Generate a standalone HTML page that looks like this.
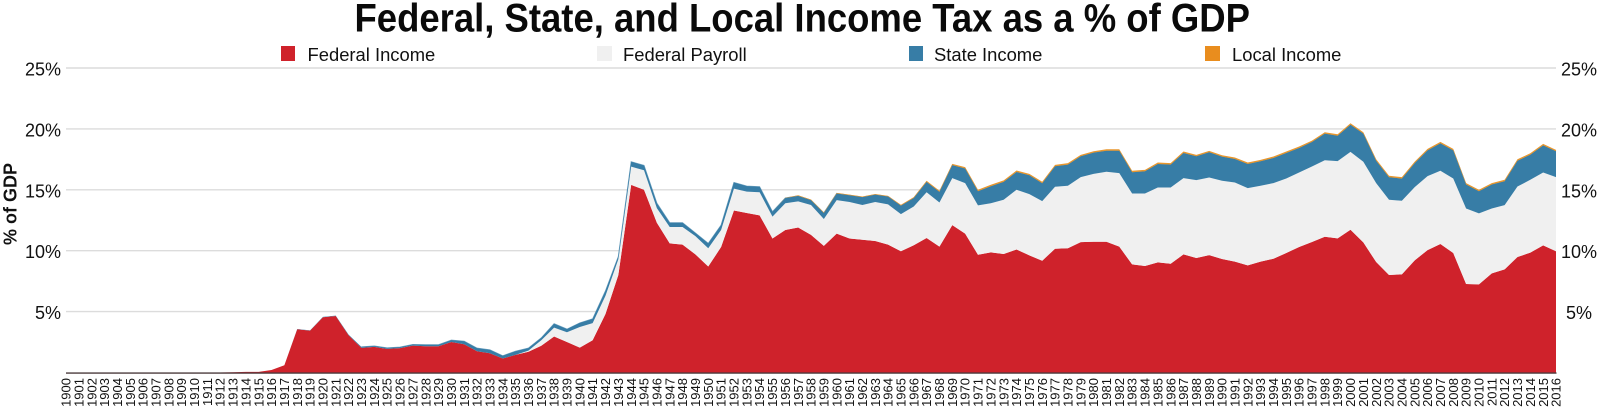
<!DOCTYPE html>
<html>
<head>
<meta charset="utf-8">
<title>Federal, State, and Local Income Tax as a % of GDP</title>
<style>
html,body{margin:0;padding:0;background:#fff;width:1600px;height:408px;overflow:hidden}
svg{display:block;font-family:"Liberation Sans",Arial,sans-serif;color:#111}
</style>
</head>
<body>
<svg id="chart" width="1600" height="408" viewBox="0 0 1600 408" xmlns="http://www.w3.org/2000/svg">
  <text transform="translate(354.5 31.5) scale(1 1.08)" font-size="36.5" font-weight="700" fill="#0a0a0a">Federal, State, and Local Income Tax as a % of GDP</text>
  <g id="grid"></g>
  <g id="areas"></g>
  <g id="yleft"></g>
  <g id="yright"></g>
  <g id="xaxis"></g>
  <text transform="translate(16.5 204) rotate(-90)" text-anchor="middle" font-size="18" font-weight="700" fill="#111">% of GDP</text>
  <g>
    <g>
      <rect x="281" y="46" width="14" height="15" fill="#cf222b"/>
      <text x="307.5" y="61" font-size="18.4" fill="#111">Federal Income</text>
    </g>
    <g>
      <rect x="597" y="46" width="15" height="15" fill="#f0f0f0"/>
      <text x="623" y="61" font-size="18.4" fill="#111">Federal Payroll</text>
    </g>
    <g>
      <rect x="909" y="46" width="14" height="15" fill="#377da6"/>
      <text x="934" y="61" font-size="18.4" fill="#111">State Income</text>
    </g>
    <g>
      <rect x="1205" y="46" width="15" height="15" fill="#e98d1e"/>
      <text x="1232" y="61" font-size="18.4" fill="#111">Local Income</text>
    </g>
  </g>
</svg>
<script>
const firstYear = 1900;
const lastYear = 2016;
const yTicks = [5, 10, 15, 20, 25];
const federalIncome = [
0,0,0,0,0,0,0,0,0,0,0,0,0,.02,.05,.05,.2,.6,3.55,3.44,
4.54,4.64,3.06,2.02,2.1,1.94,2,2.21,2.16,2.16,2.5,2.32,1.75,1.58,1.15,1.45,1.7,2.2,2.96,2.5,
2.04,2.65,4.8,8,15.4,15,12.3,10.6,10.5,9.7,8.7,10.3,13.3,13.1,12.9,11,11.7,11.9,11.3,10.4,
11.4,11,10.9,10.8,10.5,9.95,10.45,11.04,10.33,12.1,11.4,9.67,9.86,9.73,10.1,9.62,9.18,10.16,10.2,10.7,
10.74,10.74,10.33,8.88,8.74,9.04,8.93,9.7,9.4,9.64,9.32,9.1,8.8,9.1,9.34,9.81,10.3,10.71,11.15,11.01,
11.72,10.68,9.07,8,8.06,9.21,10.05,10.55,9.81,7.27,7.24,8.14,8.47,9.48,9.84,10.44,9.95];
const federalPayroll = [
0,0,0,0,0,0,0,0,0,0,0,0,0,0,0,0,0,0,0,0,
0,0,0,0,0,0,0,0,0,0,0,0,0,0,0,0,.1,.45,.72,.8,
1.7,1.4,1.5,1.3,1.5,1.6,1.2,1.35,1.45,1.5,1.5,1.4,1.8,1.75,1.9,1.8,2.2,2.15,2.45,2.2,
2.75,3,2.85,3.2,3.3,3.05,3.18,3.76,3.63,3.86,4.15,4.05,4.04,4.45,4.9,5.02,4.89,5.09,5.13,5.34,
5.57,5.74,6.04,5.82,5.96,6.15,6.26,6.26,6.39,6.37,6.42,6.5,6.34,6.23,6.21,6.12,6.12,6.2,6.28,6.34,
6.39,6.62,6.48,6.18,6.04,6.01,6.07,6.01,6.12,6.2,5.82,5.33,5.27,5.79,5.98,5.98,6.09];
const stateIncome = [
0,0,0,0,0,0,0,0,0,0,0,0,0,0,0,0,0,0,.02,.02,
.03,.03,.05,.08,.08,.08,.08,.09,.12,.12,.16,.25,.25,.28,.22,.3,.2,.19,.32,.26,
.33,.35,.4,.22,.4,.4,.4,.35,.35,.25,.4,.4,.5,.45,.45,.4,.43,.45,.4,.5,
.55,.55,.65,.6,.65,.7,.7,.85,.87,1.07,1.2,1.16,1.39,1.47,1.46,1.55,1.47,1.68,1.74,1.71,
1.74,1.73,1.84,1.74,1.82,1.93,1.88,2.06,1.96,2.07,1.98,1.93,1.98,2.01,2.06,2.09,2.01,2.01,2.18,2.09,
2.23,2.31,1.84,1.85,1.82,1.97,2.12,2.25,2.31,1.96,1.82,1.96,1.96,2.12,2.06,2.23,2.12];
const localIncome = [
0,0,0,0,0,0,0,0,0,0,0,0,0,0,0,0,0,0,0,0,
0,0,0,0,0,0,0,0,0,0,0,0,0,0,0,0,0,0,0,0,
0,0,0,0,0,0,0,0,0,0,0,0,0,0,0,0,.02,.05,.05,.05,
.05,.05,.05,.05,.05,.07,.07,.09,.09,.1,.11,.12,.12,.12,.12,.12,.12,.12,.12,.12,
.12,.12,.12,.12,.12,.12,.12,.12,.12,.12,.12,.12,.12,.12,.12,.12,.12,.12,.12,.12,
.12,.12,.12,.12,.12,.12,.12,.12,.12,.12,.12,.12,.12,.12,.12,.12,.12];

const NS = 'http://www.w3.org/2000/svg';
const xLeft = 66, xRight = 1556, yBase = 372.5, yPerPct = 12.18;
function xScale(year){ return xLeft + (year - firstYear) * (xRight - xLeft) / (lastYear - firstYear); }
function yScale(pct){ return yBase - pct * yPerPct; }
function make(tag, attrs, parent){
  const el = document.createElementNS(NS, tag);
  for (const k in attrs) el.setAttribute(k, attrs[k]);
  parent.appendChild(el);
  return el;
}

const grid = document.getElementById('grid');
const yleft = document.getElementById('yleft');
const yright = document.getElementById('yright');
yTicks.forEach(function(t){
  const y = yScale(t);
  const line = make('line', {x1: xLeft, x2: xRight, y1: y, y2: y, stroke: '#dcdcdc', 'stroke-width': 1.4}, grid);
  
  
  const a = make('text', {x: 61, y: y + 7.5, 'text-anchor': 'end', 'font-size': 18, fill: '#111'}, yleft);
  a.textContent = t + '%';
  
  
  const b = make('text', {x: 1579, y: y + 7.5, 'text-anchor': 'middle', 'font-size': 18, fill: '#111'}, yright);
  b.textContent = t + '%';
  
  
});

const years = federalIncome.map(function(_, i){ return firstYear + i; });
const seriesList = [federalIncome, federalPayroll, stateIncome, localIncome];
const seriesColors = ['#cf222b', '#f0f0f0', '#377da6', '#e8962c'];
const seriesNames = ['area-federal-income', 'area-federal-payroll', 'area-state-income', 'area-local-income'];
const areas = document.getElementById('areas');
let lower = years.map(function(){ return 0; });
const layers = seriesList.map(function(vals){
  const upper = vals.map(function(v, i){ return lower[i] + v; });
  const layer = {lower: lower, upper: upper};
  lower = upper;
  return layer;
});
function pathThrough(vals, fromIndex){
  let d = '';
  for (let i = fromIndex; i < years.length; i++) {
    d += (i > fromIndex ? 'L' : 'M') + xScale(years[i]).toFixed(2) + ' ' + yScale(vals[i]).toFixed(2);
  }
  return d;
}
layers.forEach(function(layer, s){
  let d = pathThrough(layer.upper, 0);
  for (let i = years.length - 1; i >= 0; i--) d += 'L' + xScale(years[i]).toFixed(2) + ' ' + yScale(layer.lower[i]).toFixed(2);
  const p = make('path', {d: d + 'Z', fill: seriesColors[s]}, areas);
  
  
  if (s === 2) {
    const start = stateIncome.findIndex(function(v){ return v >= 0.08; });
    const edge = make('path', {d: pathThrough(layer.upper, start), fill: 'none', stroke: seriesColors[s], 'stroke-width': 1, 'stroke-opacity': 0.7}, areas);
    
    
  }
});

const xaxis = document.getElementById('xaxis');
const axisLine = make('line', {x1: xLeft, x2: xRight + 0.5, y1: yBase + 0.6, y2: yBase + 0.6, stroke: '#4a3a3c', 'stroke-width': 1.4}, xaxis);


years.forEach(function(yr){
  const x = xScale(yr) + 4.6;
  const t = make('text', {transform: 'translate(' + x.toFixed(2) + ' 378) rotate(-90)', 'text-anchor': 'end', 'font-size': 13, fill: '#111'}, xaxis);
  t.textContent = String(yr);
  
  
});
</script>
</body>
</html>
